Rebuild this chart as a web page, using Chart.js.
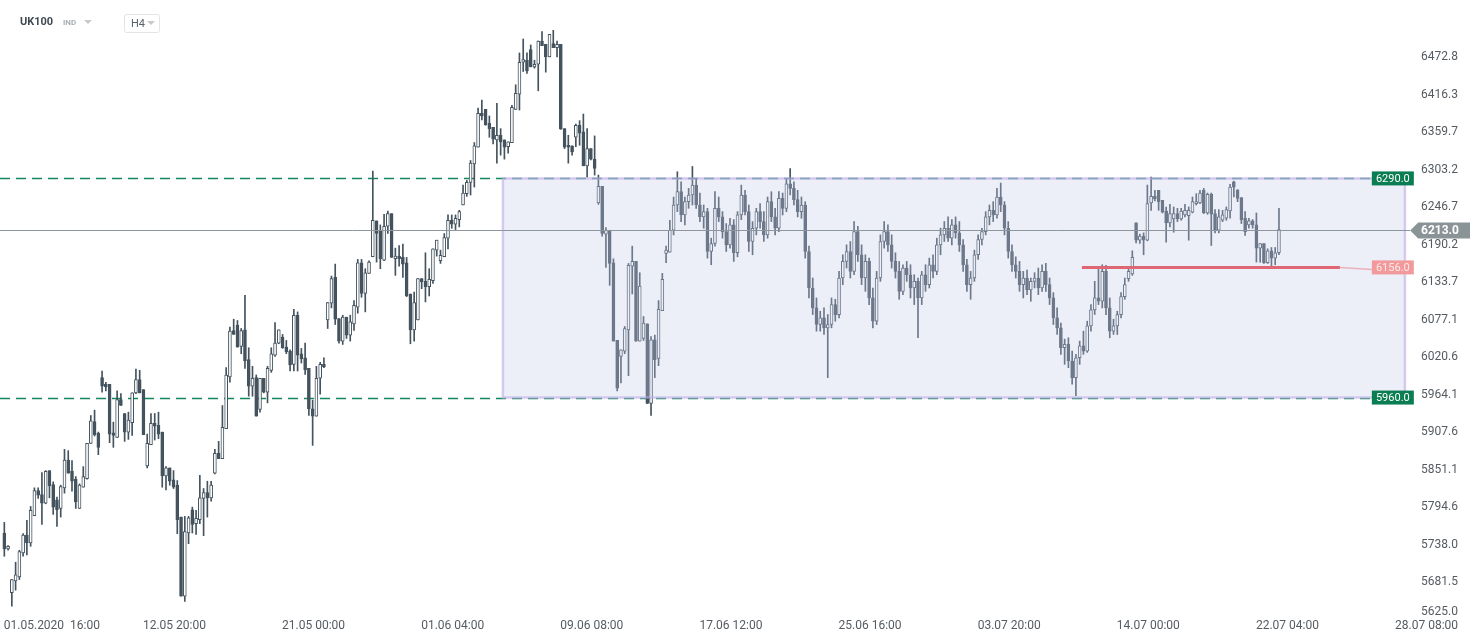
<!DOCTYPE html>
<html>
<head>
<meta charset="utf-8">
<script src="https://cdn.jsdelivr.net/npm/chart.js@4.4.0/dist/chart.umd.min.js"></script>
<style>
  html, body { margin: 0; padding: 0; background: #fff; }
  #wrap { position: relative; width: 1482px; height: 643px; font-family: Roboto, "Noto Sans", sans-serif; }
  #wrap canvas { position: absolute; left: 0; top: 0; }
  .sym { position: absolute; left: 20px; top: 15px; font-size: 11px; font-weight: 700; color: #3f4a52; }
  .kind { position: absolute; left: 63px; top: 18px; font-size: 8px; font-weight: 700; color: #a9afb4; }
  .caret { position: absolute; width: 0; height: 0; border-left: 4px solid transparent; border-right: 4px solid transparent; border-top: 4px solid #c6cacd; }
  .tf { position: absolute; left: 124px; top: 14px; width: 36px; height: 19px; border: 1px solid #e2e4e7; border-radius: 3px; box-sizing: border-box; }
  .tf span { position: absolute; left: 6px; top: 2px; font-size: 11px; color: #5a6168; }
</style>
</head>
<body>
<div id="wrap">
  <canvas id="chart" width="1482" height="643"></canvas>
  <div class="sym">UK100</div>
  <div class="kind">IND</div>
  <div class="caret" style="left:84px;top:20px"></div>
  <div class="tf"><span>H4</span></div>
  <div class="caret" style="left:147px;top:21px"></div>
</div>
<script>
// UK100, H4 candles (index 0 = 01.05.2020 16:00)
const candleOpen = [
  5756, 5732, 5666, 5684, 5690, 5726, 5753, 5741, 5782, 5820,
  5814, 5801, 5850, 5829, 5806, 5793, 5824, 5866, 5849, 5837,
  5793, 5825, 5838, 5891, 5924, 5906, 5990, 5980, 5980, 5907,
  5900, 5957, 5936, 5908, 5922, 5967, 5987, 5972, 5857, 5889,
  5921, 5918, 5908, 5842, 5854, 5836, 5828, 5780, 5661, 5756,
  5791, 5770, 5776, 5808, 5817, 5809, 5846, 5876, 5868, 5913,
  5991, 6061, 6069, 6037, 6062, 6017, 5977, 5990, 5942, 5989,
  5968, 6001, 6024, 6042, 6051, 6036, 6030, 6010, 6084, 6026,
  6020, 6004, 5943, 5932, 5989, 6010, 6077, 6102, 6141, 6079,
  6045, 6081, 6054, 6071, 6096, 6163, 6117, 6147, 6172, 6226,
  6212, 6167, 6218, 6237, 6169, 6173, 6171, 6163, 6116, 6062,
  6077, 6139, 6135, 6127, 6136, 6182, 6166, 6172, 6200, 6227,
  6221, 6228, 6250, 6267, 6284, 6312, 6337, 6388, 6394, 6373,
  6367, 6348, 6355, 6348, 6338, 6344, 6394, 6417, 6465, 6468,
  6484, 6458, 6462, 6497, 6492, 6473, 6493, 6487, 6492, 6365,
  6340, 6339, 6352, 6370, 6360, 6309, 6335, 6319, 6253, 6278,
  6206, 6212, 6163, 6046, 6022, 6030, 6062, 6158, 6165, 6045,
  6049, 6071, 5951, 6047, 6019, 6091, 6177, 6179, 6212, 6250,
  6270, 6235, 6255, 6265, 6280, 6250, 6232, 6240, 6180, 6192,
  6245, 6232, 6210, 6190, 6220, 6178, 6235, 6265, 6240, 6195,
  6215, 6240, 6225, 6205, 6255, 6232, 6215, 6260, 6245, 6282,
  6275, 6258, 6240, 6250, 6180, 6125, 6095, 6070, 6080, 6065,
  6070, 6100, 6085, 6140, 6165, 6180, 6150, 6210, 6175, 6140,
  6165, 6110, 6075, 6140, 6195, 6210, 6190, 6165, 6150, 6120,
  6155, 6145, 6125, 6135, 6110, 6145, 6130, 6160, 6150, 6190,
  6205, 6215, 6200, 6220, 6208, 6190, 6160, 6130, 6140, 6175,
  6198, 6210, 6232, 6242, 6235, 6262, 6250, 6215, 6180, 6160,
  6150, 6130, 6140, 6122, 6135, 6140, 6125, 6150, 6130, 6110,
  6080, 6065, 6035, 6040, 6015, 5990, 6020, 6038, 6030, 6068,
  6092, 6110, 6105, 6150, 6095, 6060, 6068, 6085, 6112, 6139,
  6146, 6223, 6197, 6203, 6197, 6253, 6263, 6272, 6257, 6241,
  6223, 6229, 6237, 6229, 6235, 6234, 6239, 6252, 6253, 6272,
  6238, 6266, 6237, 6212, 6227, 6230, 6241, 6285, 6273, 6261,
  6230, 6220, 6226, 6220, 6185, 6192, 6163, 6181, 6170, 6178
];
const candleHigh = [
  5772, 5737, 5686, 5712, 5730, 5755, 5775, 5796, 5824, 5824,
  5847, 5850, 5850, 5833, 5810, 5828, 5882, 5880, 5865, 5841,
  5830, 5856, 5891, 5933, 5941, 5908, 6000, 5983, 5980, 5923,
  5970, 5966, 5936, 5938, 5967, 6003, 6001, 5972, 5905, 5936,
  5936, 5938, 5908, 5856, 5854, 5850, 5835, 5780, 5781, 5781,
  5795, 5790, 5843, 5823, 5834, 5834, 5882, 5894, 5948, 6005,
  6066, 6078, 6076, 6064, 6114, 6035, 6007, 5994, 5989, 5989,
  6007, 6035, 6073, 6062, 6055, 6046, 6032, 6093, 6089, 6034,
  6042, 6004, 5956, 6007, 6013, 6020, 6103, 6143, 6161, 6079,
  6084, 6081, 6084, 6106, 6168, 6168, 6154, 6166, 6301, 6226,
  6220, 6236, 6241, 6237, 6185, 6189, 6191, 6171, 6116, 6119,
  6139, 6139, 6178, 6154, 6184, 6197, 6182, 6207, 6235, 6235,
  6235, 6242, 6280, 6287, 6317, 6344, 6396, 6408, 6394, 6384,
  6367, 6403, 6365, 6348, 6345, 6400, 6431, 6479, 6500, 6479,
  6491, 6468, 6497, 6511, 6492, 6507, 6513, 6497, 6492, 6365,
  6355, 6339, 6372, 6377, 6387, 6365, 6335, 6354, 6295, 6278,
  6216, 6212, 6169, 6046, 6032, 6067, 6162, 6188, 6165, 6148,
  6082, 6071, 6052, 6054, 6106, 6147, 6188, 6227, 6262, 6300,
  6285, 6262, 6275, 6308, 6290, 6268, 6250, 6245, 6200, 6270,
  6262, 6240, 6222, 6230, 6228, 6240, 6280, 6272, 6250, 6225,
  6245, 6252, 6240, 6262, 6270, 6245, 6270, 6268, 6290, 6305,
  6285, 6272, 6262, 6255, 6188, 6140, 6110, 6090, 6095, 6085,
  6110, 6108, 6150, 6175, 6190, 6195, 6225, 6218, 6190, 6175,
  6170, 6125, 6150, 6205, 6225, 6220, 6205, 6178, 6165, 6160,
  6165, 6160, 6145, 6140, 6150, 6160, 6170, 6175, 6200, 6215,
  6225, 6232, 6228, 6232, 6225, 6198, 6168, 6150, 6182, 6205,
  6215, 6240, 6250, 6255, 6275, 6283, 6255, 6225, 6190, 6172,
  6165, 6150, 6152, 6140, 6148, 6155, 6160, 6162, 6140, 6118,
  6095, 6072, 6048, 6050, 6030, 6025, 6045, 6060, 6075, 6100,
  6135, 6157, 6160, 6159, 6110, 6078, 6090, 6118, 6140, 6155,
  6181, 6223, 6206, 6208, 6280, 6292, 6272, 6272, 6257, 6247,
  6251, 6247, 6245, 6245, 6251, 6247, 6262, 6267, 6272, 6275,
  6268, 6268, 6243, 6243, 6242, 6247, 6281, 6286, 6273, 6261,
  6240, 6230, 6228, 6238, 6192, 6192, 6184, 6186, 6186, 6245
];
const candleLow = [
  5721, 5730, 5646, 5670, 5686, 5721, 5723, 5736, 5782, 5808,
  5769, 5800, 5809, 5784, 5766, 5780, 5816, 5846, 5819, 5793,
  5793, 5825, 5837, 5891, 5902, 5874, 5968, 5970, 5892, 5885,
  5900, 5948, 5894, 5897, 5903, 5966, 5967, 5904, 5854, 5889,
  5896, 5898, 5825, 5821, 5828, 5823, 5755, 5661, 5653, 5740,
  5756, 5754, 5770, 5752, 5780, 5804, 5845, 5868, 5868, 5913,
  5983, 6055, 6036, 6026, 6004, 5962, 5962, 5932, 5938, 5967,
  5952, 5998, 6022, 6041, 6034, 6026, 6000, 6000, 6000, 6012,
  5995, 5933, 5888, 5932, 5965, 6005, 6064, 6095, 6070, 6042,
  6040, 6049, 6045, 6061, 6087, 6111, 6089, 6147, 6172, 6164,
  6154, 6166, 6207, 6171, 6144, 6158, 6141, 6112, 6041, 6045,
  6077, 6124, 6104, 6113, 6132, 6173, 6162, 6172, 6184, 6215,
  6213, 6217, 6250, 6263, 6265, 6277, 6337, 6378, 6370, 6352,
  6342, 6313, 6325, 6319, 6328, 6344, 6394, 6393, 6451, 6448,
  6458, 6456, 6422, 6490, 6450, 6473, 6487, 6473, 6364, 6335,
  6313, 6325, 6338, 6340, 6309, 6292, 6318, 6295, 6251, 6203,
  6156, 6129, 6045, 5970, 5982, 6026, 5993, 6116, 6045, 6045,
  6046, 5951, 5933, 5990, 6008, 6091, 6163, 6179, 6205, 6240,
  6225, 6220, 6245, 6250, 6245, 6225, 6215, 6170, 6160, 6188,
  6225, 6200, 6180, 6185, 6165, 6172, 6228, 6235, 6180, 6175,
  6205, 6215, 6195, 6200, 6225, 6205, 6210, 6235, 6240, 6265,
  6250, 6232, 6230, 6170, 6110, 6085, 6060, 6060, 6055, 5990,
  6065, 6075, 6080, 6130, 6155, 6140, 6145, 6165, 6130, 6120,
  6100, 6065, 6070, 6135, 6185, 6180, 6155, 6140, 6108, 6115,
  6135, 6110, 6100, 6050, 6100, 6120, 6125, 6140, 6145, 6175,
  6195, 6195, 6190, 6200, 6180, 6150, 6120, 6108, 6135, 6168,
  6190, 6205, 6220, 6225, 6230, 6240, 6205, 6170, 6150, 6140,
  6120, 6110, 6115, 6105, 6125, 6115, 6120, 6120, 6100, 6070,
  6055, 6025, 6010, 6005, 5980, 5963, 6010, 6025, 6028, 6060,
  6085, 6100, 6095, 6085, 6050, 6055, 6055, 6080, 6108, 6135,
  6144, 6193, 6192, 6175, 6196, 6242, 6256, 6242, 6238, 6194,
  6217, 6209, 6225, 6227, 6232, 6197, 6238, 6250, 6252, 6237,
  6236, 6189, 6208, 6208, 6225, 6227, 6230, 6262, 6255, 6222,
  6204, 6215, 6215, 6164, 6164, 6162, 6162, 6158, 6160, 6175
];
const candleClose = [
  5732, 5736, 5686, 5693, 5728, 5753, 5741, 5790, 5820, 5813,
  5801, 5849, 5827, 5795, 5791, 5826, 5866, 5846, 5834, 5803,
  5828, 5841, 5891, 5925, 5904, 5885, 5977, 5976, 5905, 5903,
  5957, 5948, 5908, 5926, 5967, 5987, 5967, 5904, 5891, 5921,
  5917, 5905, 5842, 5854, 5834, 5825, 5776, 5661, 5758, 5779,
  5769, 5778, 5809, 5817, 5809, 5828, 5876, 5868, 5915, 5994,
  6060, 6055, 6036, 6061, 6015, 5977, 5989, 5932, 5989, 5968,
  6004, 6026, 6042, 6062, 6035, 6029, 6009, 6084, 6024, 6018,
  6002, 5943, 5932, 5989, 6010, 6006, 6103, 6139, 6078, 6045,
  6081, 6054, 6074, 6099, 6163, 6117, 6148, 6164, 6227, 6207,
  6169, 6218, 6237, 6171, 6173, 6169, 6161, 6113, 6062, 6103,
  6139, 6134, 6127, 6138, 6184, 6197, 6174, 6201, 6227, 6221,
  6230, 6240, 6268, 6284, 6313, 6339, 6388, 6384, 6371, 6365,
  6349, 6355, 6345, 6337, 6345, 6397, 6418, 6465, 6469, 6452,
  6458, 6462, 6497, 6490, 6473, 6507, 6487, 6492, 6364, 6337,
  6337, 6330, 6370, 6358, 6309, 6335, 6319, 6305, 6278, 6207,
  6212, 6162, 6045, 5974, 6032, 6064, 6159, 6165, 6045, 6128,
  6072, 5951, 6047, 6017, 6093, 6138, 6182, 6212, 6250, 6270,
  6235, 6255, 6265, 6280, 6250, 6232, 6240, 6180, 6192, 6245,
  6232, 6210, 6190, 6220, 6178, 6235, 6265, 6240, 6195, 6215,
  6240, 6225, 6205, 6255, 6232, 6215, 6260, 6245, 6282, 6275,
  6258, 6240, 6250, 6180, 6125, 6095, 6070, 6080, 6065, 6070,
  6100, 6085, 6140, 6165, 6180, 6150, 6210, 6175, 6140, 6165,
  6110, 6075, 6140, 6195, 6210, 6190, 6165, 6150, 6120, 6155,
  6145, 6125, 6135, 6110, 6145, 6130, 6160, 6150, 6190, 6205,
  6215, 6200, 6220, 6208, 6190, 6160, 6130, 6140, 6175, 6198,
  6210, 6232, 6242, 6235, 6262, 6250, 6215, 6180, 6160, 6150,
  6130, 6140, 6122, 6135, 6140, 6125, 6150, 6130, 6110, 6080,
  6065, 6035, 6040, 6015, 5990, 6020, 6038, 6030, 6068, 6092,
  6110, 6105, 6150, 6095, 6060, 6068, 6085, 6112, 6130, 6150,
  6171, 6197, 6203, 6197, 6252, 6263, 6259, 6255, 6239, 6223,
  6237, 6237, 6229, 6241, 6242, 6242, 6255, 6255, 6268, 6238,
  6266, 6236, 6211, 6232, 6235, 6243, 6277, 6277, 6260, 6228,
  6210, 6226, 6220, 6185, 6192, 6163, 6181, 6170, 6178, 6213
];

// axis labels
const xTickIdx = [0, 37, 74, 111, 148, 185, 222, 259, 296, 333, 370];
const xTickLabels = ['01.05.2020  16:00', '12.05 20:00', '21.05 00:00', '01.06 04:00', '09.06 08:00',
  '17.06 12:00', '25.06 16:00', '03.07 20:00', '14.07 00:00', '22.07 04:00', '28.07 08:00'];
const yTickValues = [5625.0, 5681.5, 5738.0, 5794.6, 5851.1, 5907.6, 5964.1, 6020.6,
  6077.1, 6133.7, 6190.2, 6246.7, 6303.2, 6359.7, 6416.3, 6472.8];

// drawn levels
const zoneTop = 6290.0;
const zoneBottom = 5960.0;
const zoneStartIdx = 132.6;
const zoneEndIdx = 372.5;
const lastPrice = 6213.0;
const supportLevel = 6156.0;
const supportStartIdx = 286.6;
const supportEndIdx = 355.2;

const DARK = '#44535e';
const TEXT = '#555b61';
const idx = candleOpen.map((_, i) => i);
const isUp = (i) => candleClose[i] >= candleOpen[i];

const levelsPlugin = {
  id: 'levels',
  beforeDatasetsDraw(chart) {
    const { ctx, scales: { x, y } } = chart;
    const tagLeft = x.getPixelForValue(363.7);
    ctx.save();
    ctx.strokeStyle = '#12885c';
    ctx.lineWidth = 1.4;
    ctx.setLineDash([10, 6]);
    [zoneTop, zoneBottom].forEach((v) => {
      const py = Math.round(y.getPixelForValue(v)) + 0.5;
      ctx.beginPath();
      ctx.moveTo(0, py);
      ctx.lineTo(tagLeft, py);
      ctx.stroke();
    });
    ctx.restore();
  },
  afterDatasetsDraw(chart) {
    const { ctx, scales: { x, y } } = chart;
    const tagLeft = x.getPixelForValue(363.7);
    ctx.save();

    // range box
    const x0 = x.getPixelForValue(zoneStartIdx);
    const x1 = x.getPixelForValue(zoneEndIdx);
    const y0 = y.getPixelForValue(zoneTop);
    const y1 = y.getPixelForValue(zoneBottom);
    ctx.fillStyle = 'rgba(196,202,233,0.32)';
    ctx.fillRect(x0, y0, x1 - x0, y1 - y0);
    ctx.strokeStyle = 'rgba(190,172,232,0.6)';
    ctx.lineWidth = 2.5;
    ctx.strokeRect(x0, y0, x1 - x0, y1 - y0);

    // last price line
    const py = Math.round(y.getPixelForValue(lastPrice)) + 0.5;
    const tip = x.getPixelForValue(373.9);
    ctx.strokeStyle = '#8d969d';
    ctx.lineWidth = 1;
    ctx.beginPath();
    ctx.moveTo(0, py);
    ctx.lineTo(tip, py);
    ctx.stroke();
    ctx.fillStyle = '#8a9497';
    ctx.beginPath();
    ctx.moveTo(tip, py);
    ctx.lineTo(tip + 8, py - 8);
    ctx.lineTo(1470, py - 8);
    ctx.lineTo(1470, py + 8);
    ctx.lineTo(tip + 8, py + 8);
    ctx.closePath();
    ctx.fill();
    ctx.fillStyle = '#ffffff';
    ctx.font = 'bold 12px Roboto';
    ctx.textAlign = 'left';
    ctx.textBaseline = 'middle';
    ctx.fillText(lastPrice.toFixed(1), 1421, py + 0.5);

    // support line
    const sy = y.getPixelForValue(supportLevel);
    const sx0 = x.getPixelForValue(supportStartIdx);
    const sx1 = x.getPixelForValue(supportEndIdx);
    ctx.strokeStyle = 'rgba(230,130,140,0.55)';
    ctx.lineWidth = 1.5;
    ctx.beginPath();
    ctx.moveTo(sx1, sy);
    ctx.lineTo(tagLeft, sy + 2);
    ctx.stroke();
    ctx.strokeStyle = '#df6673';
    ctx.lineWidth = 3;
    ctx.beginPath();
    ctx.moveTo(sx0, sy);
    ctx.lineTo(sx1, sy);
    ctx.stroke();

    // price tags
    ctx.font = '11px Roboto';
    ctx.textAlign = 'center';
    const tag = (v, bg, fg) => {
      const ty = y.getPixelForValue(v);
      ctx.fillStyle = bg;
      ctx.fillRect(tagLeft, ty - 7, 42, 14);
      ctx.fillStyle = fg;
      ctx.fillText(v.toFixed(1), tagLeft + 21, ty + 0.5);
    };
    tag(zoneTop, '#0b7d52', '#ffffff');
    tag(zoneBottom, '#0b7d52', '#ffffff');
    tag(supportLevel, '#f29a9b', '#fde9e9');
    ctx.restore();
  },
  afterDraw(chart) {
    // axis labels, placed with the chart's own scales
    const { ctx, scales: { x, y } } = chart;
    ctx.save();
    ctx.fillStyle = TEXT;
    ctx.font = '12px Roboto';
    ctx.textBaseline = 'middle';
    ctx.textAlign = 'right';
    yTickValues.forEach((v, i) => {
      const py = y.getPixelForValue(v) - (i === 0 ? 8 : 0);
      ctx.fillText(v.toFixed(1), 1458, py);
    });
    ctx.textAlign = 'left';
    xTickIdx.forEach((v, i) => {
      ctx.fillText(xTickLabels[i], x.getPixelForValue(v) - 0.5, 626);
    });
    ctx.restore();
  }
};

new Chart(document.getElementById('chart'), {
  type: 'bar',
  data: {
    datasets: [
      {
        label: 'body',
        data: idx.map((i) => ({ x: i, y: [candleOpen[i], candleClose[i]] })),
        backgroundColor: (c) => (isUp(c.dataIndex) ? '#ffffff' : DARK),
        borderColor: DARK,
        borderWidth: 1,
        borderSkipped: false,
        barThickness: 3,
        minBarLength: 1,
        grouped: false
      },
      {
        label: 'wick',
        data: idx.map((i) => ({ x: i, y: [candleLow[i], candleHigh[i]] })),
        backgroundColor: DARK,
        borderWidth: 0,
        barThickness: 1,
        grouped: false
      }
    ]
  },
  options: {
    responsive: false,
    animation: false,
    devicePixelRatio: 1,
    events: [],
    layout: { padding: { left: 0, right: 0, top: 0, bottom: 23 } },
    plugins: { legend: { display: false }, tooltip: { enabled: false } },
    scales: {
      x: { type: 'linear', display: false, offset: false, min: -1.15, max: 393.0 },
      y: { type: 'linear', display: false, min: 5625, max: 6558.7 }
    }
  },
  plugins: [levelsPlugin]
});
</script>
</body>
</html>
